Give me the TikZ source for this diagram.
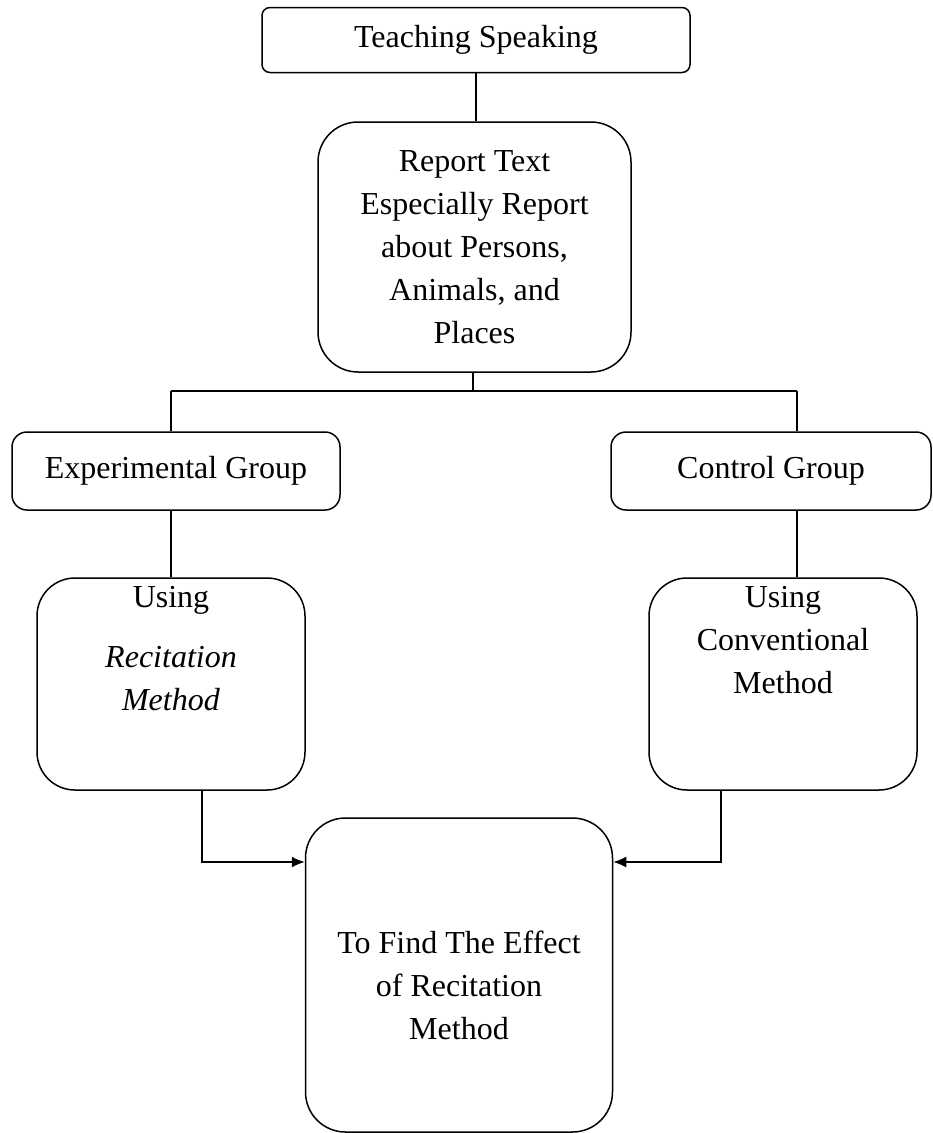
\documentclass[tikz,border=0pt]{standalone}
\usepackage{fontspec}
\setmainfont{Liberation Serif}
\usetikzlibrary{arrows.meta}

\begin{document}
\begin{tikzpicture}[x=1pt, y=-1pt,
  box/.style ={draw=black, line width=1.5pt, fill=white, inner sep=0pt,
               font=\fontsize{32}{43}\selectfont, align=center},
  txt/.style ={inner sep=0pt, font=\fontsize{32}{43}\selectfont, align=center},
  link/.style={draw=black, line width=1.5pt},
  arr/.style ={link, -{Latex[length=13pt, width=11pt]}}]

  \useasboundingbox (0,0) rectangle (933,1133);

  % ---------------- top: topic and material ----------------
  \node[box, rounded corners=8pt, minimum width=428pt, minimum height=65pt]
    (teach) at (476,40) {Teaching Speaking};
  \node[box, rounded corners=40pt, minimum width=313pt, minimum height=250pt]
    (report) at (474.5,247) {Report Text\\Especially Report\\about Persons,\\Animals, and\\Places};

  % ---------------- the two groups ----------------
  \node[box, rounded corners=15pt, minimum width=328pt, minimum height=78pt]
    (expg) at (176,471) {Experimental Group};
  \node[box, rounded corners=15pt, minimum width=320pt, minimum height=78pt]
    (ctrl) at (771,471) {Control Group};

  % ---------------- methods (text sits near the top) ----------------
  \node[box, rounded corners=38pt, minimum width=268pt, minimum height=212pt]
    (useR) at (171,684) {};
  \node[txt, anchor=north] (useRtxt) at ([yshift=-9pt]useR.north)
    {Using\\[17pt]\textit{Recitation}\\\textit{Method}};
  \node[box, rounded corners=38pt, minimum width=268pt, minimum height=212pt]
    (useC) at (783,684) {};
  \node[txt, anchor=north] (useCtxt) at ([yshift=-9pt]useC.north)
    {Using\\Conventional\\Method};

  % ---------------- result ----------------
  \node[box, rounded corners=40pt, minimum width=307pt, minimum height=314pt]
    (effect) at (459,975) {\\To Find The Effect\\of Recitation\\Method};

  % ---------------- connectors ----------------
  \coordinate (split) at (473,391);
  \coordinate (jl) at (171,391);
  \coordinate (jr) at (797,391);
  \draw[link] (teach.south) -- (teach.south |- report.north);
  \draw[link] (report.south -| split) -- (split);
  \draw[link] (jl) -- (jr);
  \draw[link] (jl) -- (jl |- expg.north);
  \draw[link] (jr) -- (jr |- ctrl.north);
  \draw[link] (jl |- expg.south) -- (jl |- useR.north);
  \draw[link] (jr |- ctrl.south) -- (jr |- useC.north);

  \coordinate (kl) at (202,862);
  \coordinate (kr) at (721,862);
  \draw[arr] (kl |- useR.south) -- (kl) -- (kl -| effect.west);
  \draw[arr] (kr |- useC.south) -- (kr) -- (kr -| effect.east);
\end{tikzpicture}
\end{document}
